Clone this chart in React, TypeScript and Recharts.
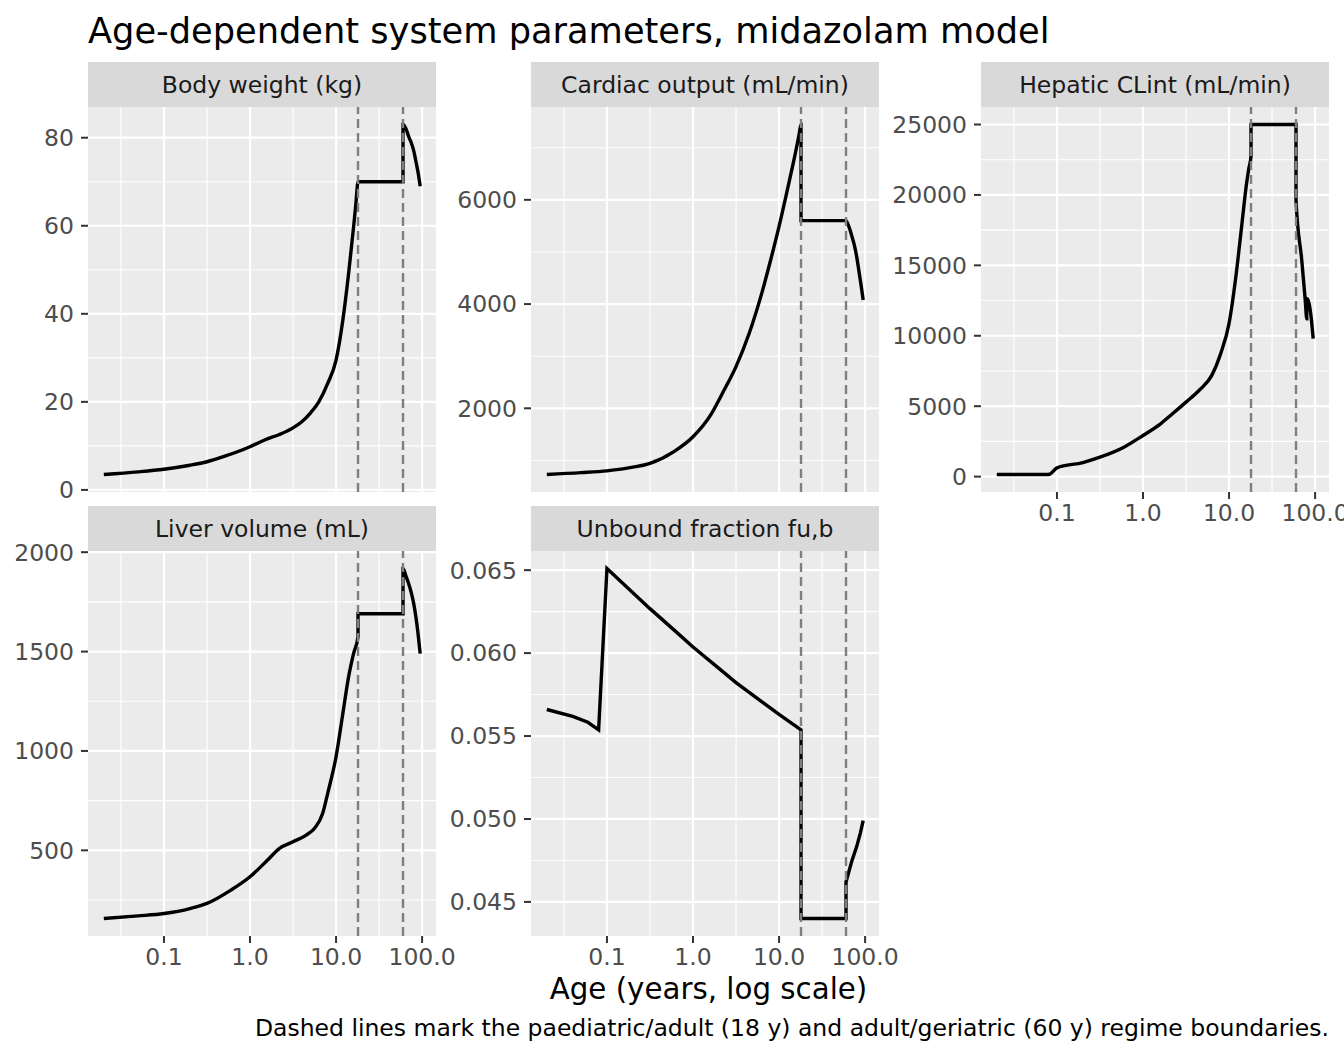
import React from 'react';
import { LineChart, Line, XAxis, YAxis, CartesianGrid, ReferenceLine } from 'recharts';

const FONT = '"DejaVu Sans", "Liberation Sans", sans-serif';

// Body weight (kg)
const bwAge = [0.02, 0.05, 0.1, 0.2, 0.316, 0.5, 1, 1.5, 2.2, 3.16, 4, 5, 6.3, 8, 10, 12, 14, 16, 17, 18, 60, 60, 65, 70, 75, 80, 85, 90, 95];
const bwVal = [3.5, 4.1, 4.7, 5.6, 6.4, 7.6, 9.8, 11.4, 12.6, 14.1, 15.5, 17.4, 20, 24.2, 29.5, 38.6, 49.2, 59.8, 65, 70, 70, 83, 82, 80.2, 78.8, 77, 74.5, 72, 69];

// Cardiac output (mL/min)
const coAge = [0.02, 0.05, 0.1, 0.2, 0.316, 0.6, 1, 1.6, 2.2, 3.16, 4.5, 6.3, 8, 10, 13, 15.5, 17, 18, 18, 60, 65, 70, 75, 80, 85, 90, 95];
const coVal = [730, 765, 800, 870, 944, 1170, 1455, 1870, 2290, 2800, 3440, 4210, 4850, 5490, 6320, 6900, 7230, 7445, 5600, 5600, 5480, 5310, 5130, 4900, 4620, 4350, 4080];

// Hepatic CLint (mL/min)
const clAge = [0.02, 0.08, 0.1, 0.2, 0.316, 0.6, 1, 1.6, 2.2, 3.16, 4.5, 6.3, 8, 10, 12, 14, 16, 17, 18, 18, 60, 60, 70, 77, 80, 80, 85, 90, 95];
const clVal = [150, 150, 620, 1000, 1380, 2090, 2920, 3750, 4460, 5290, 6130, 7190, 8740, 10880, 14200, 17760, 20850, 21900, 22750, 25000, 25000, 19660, 15350, 12450, 11200, 12650, 12300, 11300, 9800];

// Liver volume (mL)
const lvAge = [0.02, 0.05, 0.1, 0.2, 0.316, 0.6, 1, 1.6, 2.2, 3.16, 4.5, 5.6, 7, 8, 10, 12, 14, 16, 18, 18, 60, 60, 65, 70, 75, 80, 85, 90, 95];
const lvVal = [157, 170, 182, 207, 233, 300, 367, 451, 510, 543, 577, 610, 686, 787, 971, 1189, 1374, 1491, 1575, 1690, 1690, 1918, 1880, 1840, 1795, 1740, 1670, 1585, 1490];

// Unbound fraction fu,b
const fuAge = [0.02, 0.04, 0.06, 0.08, 0.1, 0.2, 0.316, 0.6, 1, 2, 3.16, 6, 10, 18, 18, 60, 60, 70, 80, 88, 95];
const fuVal = [0.0566, 0.05618, 0.05583, 0.05537, 0.0651, 0.06364, 0.06268, 0.0614, 0.06037, 0.05908, 0.05822, 0.05715, 0.0563, 0.05537, 0.0440, 0.0440, 0.0462, 0.04745, 0.04835, 0.04915, 0.0499];

// axis breaks
const xMajor = [0.1, 1, 10, 100];
const xMinor = [10 ** -1.5, 10 ** -0.5, 10 ** 0.5, 10 ** 1.5];
const boundaries = [18, 60];

const bwMajor = [0, 20, 40, 60, 80];
const bwMinor = [10, 30, 50, 70];
const coMajor = [2000, 4000, 6000];
const coMinor = [1000, 3000, 5000, 7000];
const clMajor = [0, 5000, 10000, 15000, 20000, 25000];
const clMinor = [2500, 7500, 12500, 17500, 22500];
const lvMajor = [500, 1000, 1500, 2000];
const lvMinor = [250, 750, 1250, 1750];
const fuMajor = [0.045, 0.05, 0.055, 0.06, 0.065];
const fuMinor = [0.0475, 0.0525, 0.0575, 0.0625];

// layout
const COLS = [88, 531, 981];
const STRIP_TOP = [62, 506];
const STRIP_H = 45;
const PW = 348;
const PH = 385;
const AXW = 100;
const PAD = 16;

const allAges = [...bwAge, ...coAge, ...clAge, ...lvAge, ...fuAge];
const lmin = Math.log10(Math.min(...allAges));
const lmax = Math.log10(Math.max(...allAges));
const xDomain = [10 ** (lmin - 0.05 * (lmax - lmin)), 10 ** (lmax + 0.05 * (lmax - lmin))];

const expand = (vals: number[]) => {
  const lo = Math.min(...vals);
  const hi = Math.max(...vals);
  const r = hi - lo;
  return [lo - 0.05 * r, hi + 0.05 * r];
};

const tickStyle = { fill: '#4D4D4D', fontSize: 23.5, fontFamily: FONT };
const tickLine = { stroke: '#333333', strokeWidth: 2 };

interface PanelProps {
  ages: number[];
  values: number[];
  yMajor: number[];
  yMinor: number[];
  fmt: (v: number) => string;
  left: number;
  top: number;
  showX: boolean;
  curve: 'monotoneX' | 'linear';
}

const Panel: React.FC<PanelProps> = ({ ages, values, yMajor, yMinor, fmt, left, top, showX, curve }) => {
  const data = ages.map((a, i) => ({ age: a, v: values[i] }));
  const xh = showX ? 60 : 0;
  return (
    <div style={{ position: 'absolute', left: left - AXW, top: top - PAD }}>
      <LineChart
        width={AXW + PW + 20}
        height={PH + xh + 2 * PAD}
        data={data}
        margin={{ top: PAD, right: 20, bottom: PAD, left: 0 }}
      >
        <CartesianGrid fill="#EBEBEB" horizontal={false} vertical={false} />
        {xMinor.map(x => (
          <ReferenceLine key={'xm' + x} x={x} stroke="#FFFFFF" strokeWidth={1.1} zIndex={-50} />
        ))}
        {yMinor.map(y => (
          <ReferenceLine key={'ym' + y} y={y} stroke="#FFFFFF" strokeWidth={1.1} zIndex={-50} />
        ))}
        {xMajor.map(x => (
          <ReferenceLine key={'xM' + x} x={x} stroke="#FFFFFF" strokeWidth={2.2} zIndex={-40} />
        ))}
        {yMajor.map(y => (
          <ReferenceLine key={'yM' + y} y={y} stroke="#FFFFFF" strokeWidth={2.2} zIndex={-40} />
        ))}
        <XAxis
          dataKey="age"
          type="number"
          scale="log"
          domain={xDomain}
          allowDataOverflow
          ticks={xMajor}
          interval={0}
          hide={!showX}
          height={xh}
          axisLine={false}
          tickLine={tickLine}
          tickSize={7}
          tickMargin={5}
          tick={tickStyle}
          tickFormatter={(v: number) => (v < 1 ? String(v) : v.toFixed(1))}
        />
        <YAxis
          type="number"
          domain={expand(values)}
          allowDataOverflow
          ticks={yMajor}
          interval={0}
          width={AXW}
          axisLine={false}
          tickLine={tickLine}
          tickSize={7}
          tickMargin={7}
          tick={tickStyle}
          tickFormatter={fmt}
        />
        <Line
          type={curve}
          dataKey="v"
          stroke="#000000"
          strokeWidth={3.4}
          dot={false}
          activeDot={false}
          isAnimationActive={false}
        />
        {boundaries.map(b => (
          <ReferenceLine key={'b' + b} x={b} stroke="#7F7F7F" strokeWidth={2.4} strokeDasharray="9 5" zIndex={450} />
        ))}
      </LineChart>
    </div>
  );
};

const plain = (v: number) => String(v);
const three = (v: number) => v.toFixed(3);

const strips = [
  { label: 'Body weight (kg)', col: 0, row: 0 },
  { label: 'Cardiac output (mL/min)', col: 1, row: 0 },
  { label: 'Hepatic CLint (mL/min)', col: 2, row: 0 },
  { label: 'Liver volume (mL)', col: 0, row: 1 },
  { label: 'Unbound fraction fu,b', col: 1, row: 1 },
];

const App: React.FC = () => {
  const pTop = STRIP_TOP.map(t => t + STRIP_H);
  return (
    <div style={{ position: 'absolute', left: 0, top: 0, width: 1344, height: 1056, overflow: 'hidden', background: '#FFFFFF', fontFamily: FONT }}>
      <svg width={1344} height={1056} style={{ position: 'absolute', left: 0, top: 0 }}>
        <text x={88} y={43} fontSize={35.2} fill="#000000" fontFamily={FONT}>
          Age-dependent system parameters, midazolam model
        </text>
        {strips.map(s => (
          <g key={s.label}>
            <rect x={COLS[s.col]} y={STRIP_TOP[s.row]} width={PW} height={STRIP_H} fill="#D9D9D9" />
            <text
              x={COLS[s.col] + PW / 2}
              y={STRIP_TOP[s.row] + STRIP_H / 2 + 8}
              textAnchor="middle"
              fontSize={23.5}
              fill="#1A1A1A"
              fontFamily={FONT}
            >
              {s.label}
            </text>
          </g>
        ))}
        <text x={708.5} y={999} textAnchor="middle" fontSize={29.3} fill="#000000" fontFamily={FONT}>
          Age (years, log scale)
        </text>
        <text x={1329} y={1036} textAnchor="end" fontSize={23.5} fill="#000000" fontFamily={FONT}>
          Dashed lines mark the paediatric/adult (18 y) and adult/geriatric (60 y) regime boundaries.
        </text>
      </svg>
      <Panel ages={bwAge} values={bwVal} yMajor={bwMajor} yMinor={bwMinor} fmt={plain} left={COLS[0]} top={pTop[0]} showX={false} curve="monotoneX" />
      <Panel ages={coAge} values={coVal} yMajor={coMajor} yMinor={coMinor} fmt={plain} left={COLS[1]} top={pTop[0]} showX={false} curve="monotoneX" />
      <Panel ages={clAge} values={clVal} yMajor={clMajor} yMinor={clMinor} fmt={plain} left={COLS[2]} top={pTop[0]} showX={true} curve="monotoneX" />
      <Panel ages={lvAge} values={lvVal} yMajor={lvMajor} yMinor={lvMinor} fmt={plain} left={COLS[0]} top={pTop[1]} showX={true} curve="monotoneX" />
      <Panel ages={fuAge} values={fuVal} yMajor={fuMajor} yMinor={fuMinor} fmt={three} left={COLS[1]} top={pTop[1]} showX={true} curve="linear" />
    </div>
  );
};

export default App;
